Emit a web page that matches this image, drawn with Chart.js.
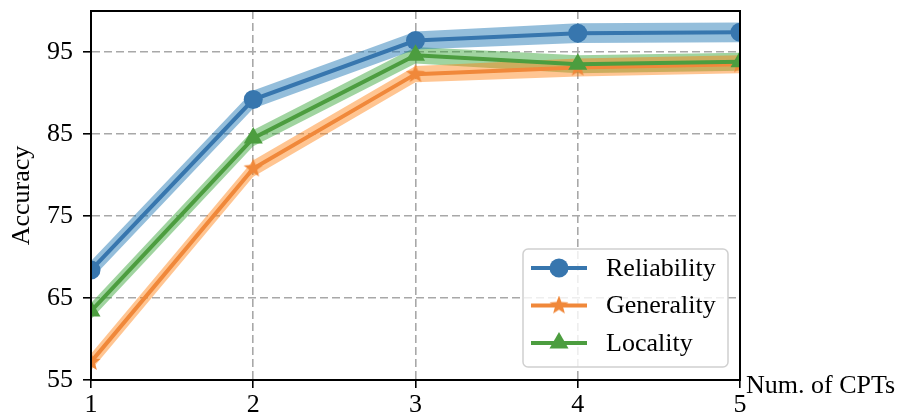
<!DOCTYPE html>
<html>
<head>
<meta charset="utf-8">
<script src="https://cdn.jsdelivr.net/npm/chart.js@4.4.1/dist/chart.umd.min.js"></script>
<style>
  html, body { margin: 0; padding: 0; background: #fff; }
</style>
</head>
<body>
<canvas id="accChart" width="899" height="419"></canvas>
<script>
// values
const cpts = [1, 2, 3, 4, 5];
const yTicks = [55, 65, 75, 85, 95];
const reliability = [68.4, 89.2, 96.4, 97.3, 97.4];
const generality = [57.2, 80.8, 92.3, 93.1, 93.5];
const locality = [63.4, 84.5, 94.6, 93.5, 93.8];
const reliabilityStd = [1.1, 1.1, 1.1, 1.2, 1.2];
const generalityStd = [1.0, 1.0, 1.0, 1.1, 1.1];
const localityStd = [1.0, 1.0, 1.0, 1.1, 1.1];

const FONT = "'Liberation Serif', 'Times New Roman', serif";

// filled 5 point star like matplotlib '*'
function makeStar(size, color) {
    let c = document.createElement('canvas');
    c.width = size;
    c.height = size;
    let g = c.getContext('2d');
    let r = size / 2, ri = r * 0.42;
    g.beginPath();
    for (let i = 0; i < 10; i++) {
        let a = -Math.PI / 2 + i * Math.PI / 5;
        let rr = (i % 2) ? ri : r;
        g.lineTo(r + rr * Math.cos(a), r + rr * Math.sin(a));
    }
    g.closePath();
    g.fillStyle = color;
    g.fill();
    return c;
}

const series = [
    {label: 'Reliability', data: reliability, std: reliabilityStd, color: '#3776ae', band: 'rgba(31,119,180,0.48)', style: 'circle', radius: 9.5, order: 3},
    {label: 'Generality', data: generality, std: generalityStd, color: '#f0883a', band: 'rgba(255,127,14,0.45)', style: makeStar(20, '#f0883a'), radius: 9, order: 2},
    {label: 'Locality', data: locality, std: localityStd, color: '#4c9d3f', band: 'rgba(44,160,44,0.45)', style: 'triangle', radius: 11, order: 1}
];

function toPoints(vals) {
    return vals.map((v, i) => ({x: cpts[i], y: v}));
}

let datasets = [];
series.forEach(s => {
    datasets.push({
        label: s.label,
        data: toPoints(s.data),
        borderColor: s.color,
        backgroundColor: s.color,
        borderWidth: 4,
        pointStyle: s.style,
        pointRadius: s.radius,
        pointBorderWidth: 0,
        fill: false,
        clip: 0,
        order: s.order
    });
});
series.forEach((s, k) => {
    let upIdx = datasets.length;
    datasets.push({
        label: s.label + ' upper',
        data: toPoints(s.data.map((v, i) => v + s.std[i])),
        borderColor: 'transparent',
        borderWidth: 0,
        pointRadius: 0,
        fill: false,
        clip: 0,
        order: 10 + k
    });
    datasets.push({
        label: s.label + ' lower',
        data: toPoints(s.data.map((v, i) => v - s.std[i])),
        borderColor: 'transparent',
        backgroundColor: s.band,
        borderWidth: 0,
        pointRadius: 0,
        fill: upIdx,
        clip: 0,
        order: 10 + k
    });
});

// frame, x title and the legend box
const extras = {
    id: 'extras',
    afterDraw(chart) {
        let ctx = chart.ctx;
        let a = chart.chartArea;
        ctx.save();
        ctx.strokeStyle = '#000';
        ctx.lineWidth = 2;
        ctx.strokeRect(a.left, a.top, a.right - a.left, a.bottom - a.top);

        ctx.fillStyle = '#000';
        ctx.font = '26px ' + FONT;
        ctx.textAlign = 'left';
        ctx.textBaseline = 'alphabetic';
        ctx.fillText('Num. of CPTs', a.right + 6, a.bottom + 13);

        // legend
        let lx = 523, ly = 249, lw = 205, lh = 118;
        ctx.beginPath();
        ctx.roundRect(lx, ly, lw, lh, 5);
        ctx.fillStyle = 'rgba(255,255,255,0.8)';
        ctx.fill();
        ctx.strokeStyle = '#d0d0d0';
        ctx.lineWidth = 1.5;
        ctx.stroke();

        series.forEach((s, i) => {
            let cy = 268 + i * 37.5;
            ctx.strokeStyle = s.color;
            ctx.lineWidth = 4;
            ctx.beginPath();
            ctx.moveTo(531, cy);
            ctx.lineTo(587, cy);
            ctx.stroke();
            ctx.fillStyle = s.color;
            Chart.helpers.drawPoint(ctx, {pointStyle: s.style, radius: s.radius, borderWidth: 0}, 559, cy);
            ctx.fillStyle = '#000';
            ctx.textBaseline = 'middle';
            ctx.fillText(s.label, 606, cy + 1);
        });
        ctx.restore();
    }
};

new Chart(document.getElementById('accChart'), {
    type: 'line',
    data: {datasets: datasets},
    plugins: [extras],
    options: {
        responsive: false,
        animation: false,
        events: [],
        layout: {padding: {left: 0, right: 159, top: 9, bottom: 0}},
        plugins: {
            legend: {display: false},
            tooltip: {enabled: false}
        },
        scales: {
            x: {
                type: 'linear',
                min: 1,
                max: 5,
                ticks: {stepSize: 1, color: '#000', font: {family: FONT, size: 26}, padding: 2},
                grid: {color: '#a8a8a8', lineWidth: 1.6, tickColor: '#000', tickLength: 8, tickWidth: 1.6},
                border: {color: '#000', width: 2, dash: [8, 4]},
                afterFit(scale) {
                    scale.height = 39;
                    scale.paddingLeft = 0;
                    scale.paddingRight = 0;
                }
            },
            y: {
                min: 55,
                max: 100,
                afterBuildTicks(scale) {
                    scale.ticks = yTicks.map(v => ({value: v}));
                },
                ticks: {color: '#000', font: {family: FONT, size: 26}, padding: 10},
                grid: {color: '#a8a8a8', lineWidth: 1.6, tickColor: '#000', tickLength: 8, tickWidth: 1.6},
                border: {color: '#000', width: 2, dash: [8, 4]},
                title: {display: true, text: 'Accuracy', color: '#000', font: {family: FONT, size: 26}, padding: {top: 7, bottom: 0}},
                afterFit(scale) {
                    scale.width = 91;
                    scale.paddingTop = 0;
                    scale.paddingBottom = 0;
                }
            }
        }
    }
});
</script>
</body>
</html>
